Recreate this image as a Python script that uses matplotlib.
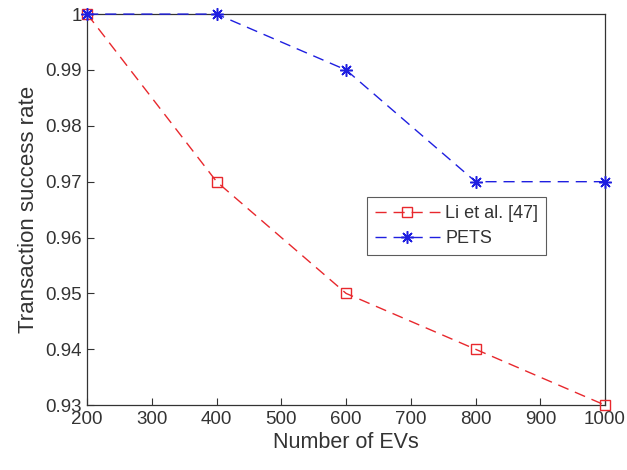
import matplotlib
matplotlib.use("Agg")
import matplotlib.pyplot as plt

plt.rcParams['font.family'] = ['Liberation Sans', 'DejaVu Sans']

evs = [200, 400, 600, 800, 1000]
li_rate = [1.0, 0.97, 0.95, 0.94, 0.93]
pets_rate = [1.0, 1.0, 0.99, 0.97, 0.97]

xticks = [200, 300, 400, 500, 600, 700, 800, 900, 1000]
yticks = [0.93, 0.94, 0.95, 0.96, 0.97, 0.98, 0.99, 1.0]
ylabels = ['0.93', '0.94', '0.95', '0.96', '0.97', '0.98', '0.99', '1']

fig = plt.figure(figsize=(6.27, 4.70), dpi=100)
ax = fig.add_axes([0.139, 0.138, 0.826, 0.832])

# MATLAB-like dashed lines
ax.plot(evs, li_rate, color='#e8282d', linestyle=(0, (8, 5)), linewidth=1.0,
        marker='s', markersize=7, markerfacecolor='none', markeredgecolor='#e8282d',
        label='Li et al. [47]', clip_on=False, zorder=3)
ax.plot(evs, pets_rate, color='#1f1fe0', linestyle=(0, (8, 5)), linewidth=1.0,
        marker=(8, 2, 0), markersize=9, markeredgewidth=1.1, markeredgecolor='#1f1fe0',
        label='PETS', clip_on=False, zorder=3)

ax.set_xlim(200, 1000)
ax.set_ylim(0.93, 1.0)
ax.set_xticks(xticks)
ax.set_yticks(yticks)
ax.set_yticklabels(ylabels)
ax.tick_params(direction='in', length=5, width=0.8, labelsize=13.5, colors='#333333',
               pad=4, top=False, right=False)
for s in ax.spines.values():
    s.set_color('#333333')
    s.set_linewidth(0.9)

ax.set_xlabel('Number of EVs', fontsize=15.5, color='#333333', labelpad=3)
ax.set_ylabel('Transaction success rate', fontsize=16, color='#333333', labelpad=4)

leg = ax.legend(loc='upper left', bbox_to_anchor=(0.54, 0.532), fontsize=13,
                handlelength=3.6, frameon=True, fancybox=False, edgecolor='#333333',
                borderpad=0.45, labelspacing=0.45, handletextpad=0.3, borderaxespad=0)
leg.get_frame().set_linewidth(0.8)
for t in leg.get_texts():
    t.set_color('#333333')

fig.savefig('out.png', dpi=100)
